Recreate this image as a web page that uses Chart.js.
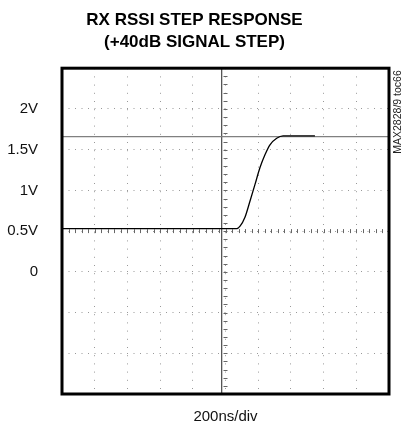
<!DOCTYPE html>
<html>
<head>
<meta charset="utf-8">
<script src="https://cdn.jsdelivr.net/npm/chart.js@4/dist/chart.umd.min.js"></script>
<style>
  html, body { margin: 0; padding: 0; background: #fff; }
  #wrap { width: 403px; height: 427px; }
</style>
</head>
<body>
<div id="wrap"><canvas id="scope"></canvas></div>
<script>
// trace (time in ns, 200ns/div, 10 div)
const traceTime  = [0, 1068, 1089, 1119, 1150, 1180, 1211, 1242, 1272, 1313, 1352, 1450, 1547];
const traceVolts = [0.53, 0.53, 0.56, 0.67, 0.87, 1.07, 1.28, 1.44, 1.56, 1.64, 1.67, 1.67, 1.67];

// cursors
const cursorLevel = 1.66;   // V
const cursorTime = 977;     // ns

const yTicks = [-1.5, -1, -0.5, 0, 0.5, 1, 1.5, 2, 2.5];
const yLabels = ['', '', '', '0', '0.5V', '1V', '1.5V', '2V', ''];

const labelFont = "'Liberation Sans', Arial, sans-serif";

// frame + center axis minor ticks + side note
const scopeDecor = {
    id: 'scopeDecor',
    afterDatasetsDraw(chart) {
        const { ctx, chartArea: a, scales } = chart;
        const xs = scales.x, ys = scales.y;
        ctx.save();
        // minor ticks along center axes
        ctx.strokeStyle = '#666';
        ctx.lineWidth = 1;
        const cy = ys.getPixelForValue(0.5);
        for (let t = 0; t <= 2000; t += 40) {
            const px = Math.round(xs.getPixelForValue(t)) + 0.5;
            ctx.beginPath();
            ctx.moveTo(px, cy - 2);
            ctx.lineTo(px, cy + 2);
            ctx.stroke();
        }
        const cx = xs.getPixelForValue(1000);
        for (let v = -1.5; v <= 2.5; v += 0.1) {
            const py = Math.round(ys.getPixelForValue(v)) + 0.5;
            ctx.beginPath();
            ctx.moveTo(cx - 2, py);
            ctx.lineTo(cx + 2, py);
            ctx.stroke();
        }
        // frame
        ctx.strokeStyle = '#000';
        ctx.lineWidth = 3;
        ctx.strokeRect(a.left, a.top, a.right - a.left, a.bottom - a.top);
        // side note
        ctx.fillStyle = '#222';
        ctx.font = "10.5px " + labelFont;
        ctx.translate(398, 112);
        ctx.rotate(-Math.PI / 2);
        ctx.textAlign = 'center';
        ctx.textBaseline = 'middle';
        ctx.fillText('MAX2828/9 toc66', 0, 0);
        ctx.restore();
    }
};

const ctx = document.querySelector('#scope').getContext('2d');

new Chart(ctx, {
    type: 'line',
    data: {
        datasets: [{
            label: 'RSSI',
            data: traceTime.map((t, i) => ({ x: t, y: traceVolts[i] })),
            borderColor: '#000',
            borderWidth: 1.3,
            pointRadius: 0,
            cubicInterpolationMode: 'monotone'
        }, {
            label: 'level cursor',
            data: [{ x: 0, y: cursorLevel }, { x: 2000, y: cursorLevel }],
            borderColor: '#808080',
            borderWidth: 1.4,
            pointRadius: 0
        }, {
            label: 'time cursor',
            data: [{ x: cursorTime, y: -1.5 }, { x: cursorTime, y: 2.5 }],
            borderColor: '#222',
            borderWidth: 1,
            pointRadius: 0
        }]
    },
    options: {
        responsive: true,
        maintainAspectRatio: false,
        animation: false,
        layout: { padding: { left: 0, right: 14, top: 0, bottom: 0 } },
        plugins: {
            legend: { display: false },
            tooltip: { enabled: false },
            title: {
                display: true,
                text: ['RX RSSI STEP RESPONSE', '(+40dB SIGNAL STEP)'],
                color: '#000',
                font: { family: labelFont, size: 17, weight: 'bold', lineHeight: 1.3 },
                padding: { top: 9, bottom: 15 }
            }
        },
        scales: {
            x: {
                type: 'linear',
                min: 0,
                max: 2000,
                ticks: { stepSize: 200, display: false },
                grid: { color: '#999', lineWidth: 1, drawTicks: false },
                border: { display: false, dash: [1, 7.2] },
                title: {
                    display: true,
                    text: '200ns/div',
                    color: '#111',
                    font: { family: labelFont, size: 15 },
                    padding: { top: 12, bottom: 0 }
                },
                afterFit(scale) { scale.height = 32; }
            },
            y: {
                type: 'linear',
                min: -1.5,
                max: 2.5,
                afterBuildTicks(scale) { scale.ticks = yTicks.map(v => ({ value: v })); },
                ticks: {
                    color: '#111',
                    padding: 24,
                    font: { family: labelFont, size: 15 },
                    callback: (v) => yLabels[yTicks.indexOf(v)]
                },
                grid: { color: '#999', lineWidth: 1, drawTicks: false },
                border: { display: false, dash: [1, 5.5] },
                afterFit(scale) { scale.width = 62; }
            }
        }
    },
    plugins: [scopeDecor]
});
</script>
</body>
</html>
